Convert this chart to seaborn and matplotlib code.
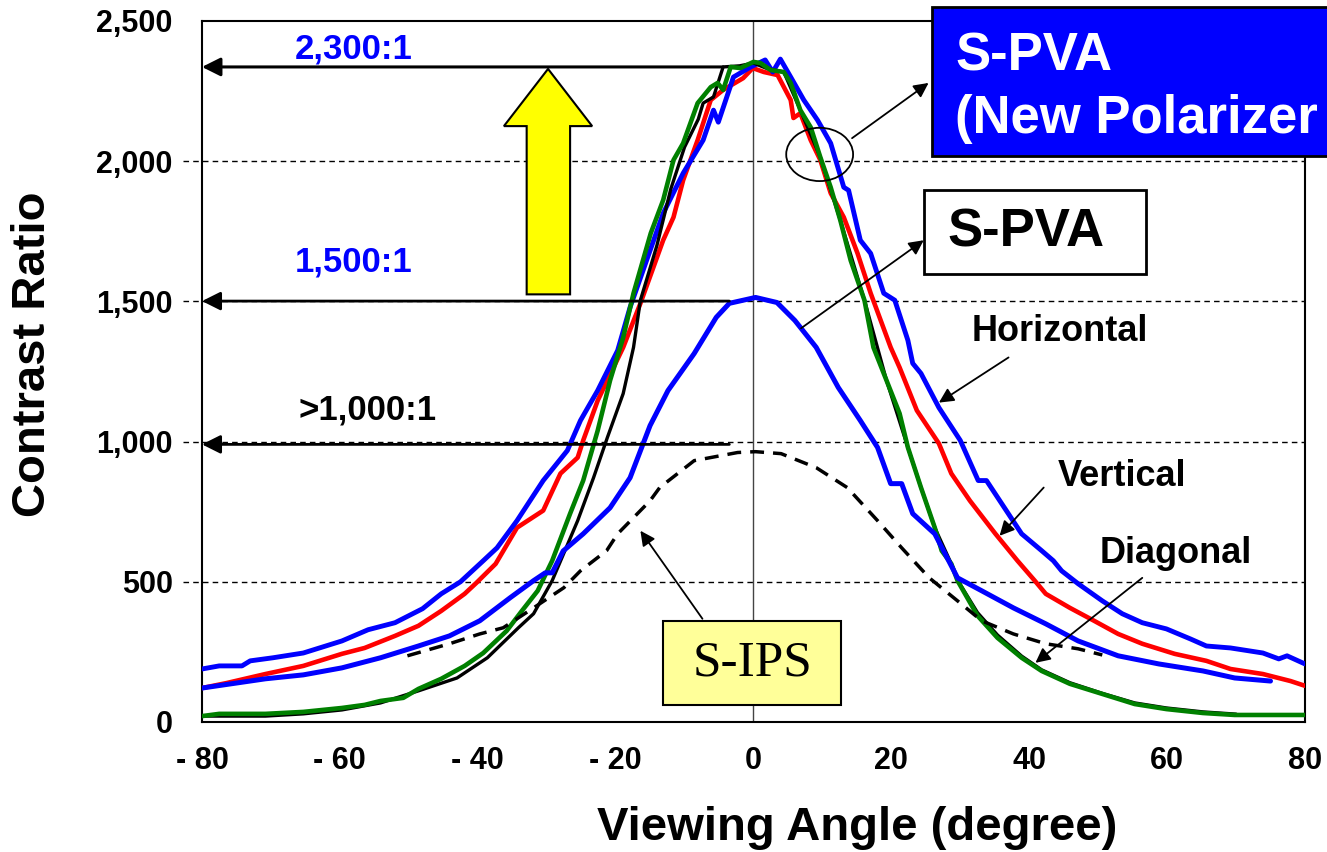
import matplotlib
matplotlib.use("Agg")
import matplotlib.pyplot as plt
import seaborn as sns
from matplotlib.patches import Rectangle, Ellipse, Polygon

# ---------------- data ----------------
horiz_x = [-80, -77.5, -74.2, -73, -69.7, -65.3, -59.7, -55.9, -52, -48, -45.3, -42.5, -39.2, -37.2,
           -34.3, -30.5, -27, -25.1, -24.1, -22.6, -19.7, -17.9, -13.1, -10.2, -7.3, -5.8, -5.1, -2.9,
           -0.4, 1.7, 2.8, 3.9, 5.4, 7.3, 9.3, 11.2, 13.1, 13.8, 15.5, 17, 18.9, 20.5, 22.4, 23.1, 24.3,
           26.9, 30, 32.6, 33.8, 38.9, 41.8, 43.5, 44.7, 47.1, 50.6, 53.5, 56.4, 59.9, 63.4, 65.7, 69.2,
           73.9, 76.2, 77.4, 80]
horiz_y = [189, 200, 200, 218, 229, 246, 289, 329, 354, 404, 457, 500, 575, 621,
           718, 861, 968, 1075, 1118, 1182, 1325, 1479, 1814, 1957, 2075, 2182, 2139, 2300,
           2336, 2361, 2318, 2364, 2300, 2218, 2146, 2064, 1907, 1896, 1718, 1671, 1529, 1504, 1361, 1279, 1243,
           1121, 1004, 861, 861, 671, 611, 575, 539, 493, 432, 386, 354, 332, 296, 271, 264,
           246, 225, 236, 207]

vert_x = [-80, -76.4, -70.8, -65.3, -59.7, -56.4, -52, -48.6, -45.3, -41.9, -40.2, -37.4, -34.3, -30.5,
          -28, -25.5, -24.7, -22.6, -18.9, -16.4, -13.1, -11.6, -10.2, -8.1, -6.2, -4.4, -1.5, -0.1, 1.5,
          3.5, 5.4, 5.8, 6.8, 8.3, 9.7, 11.2, 13.1, 15.1, 17, 19.9, 21.2, 23.7, 26.9, 28.7, 31.4, 35.1,
          38.3, 40.8, 42.4, 45.9, 49.4, 52.9, 56.4, 61.1, 65.7, 69.2, 73.9, 77.9, 80]
vert_y = [121, 139, 171, 200, 243, 264, 307, 343, 396, 457, 496, 564, 693, 754,
          886, 943, 1004, 1146, 1336, 1493, 1718, 1800, 1932, 2075, 2218, 2254, 2296, 2332, 2318,
          2307, 2218, 2154, 2171, 2075, 2004, 1886, 1800, 1671, 1529, 1336, 1264, 1111, 993, 886, 789, 671,
          575, 504, 457, 407, 361, 314, 279, 243, 218, 189, 171, 146, 129]

diag_x = [-80, -77.5, -70.8, -65.3, -59.7, -56.4, -54.1, -50.8, -48.6, -45.3, -41.9, -39.2, -35.8, -33.6,
          -31.3, -29.2, -26.6, -24.7, -22.6, -20.8, -18.9, -17.4, -14.9, -13.1, -11.6, -10.2, -8.1, -6.2,
          -5.2, -4.4, -3.3, -1.9, 0, 1, 2.5, 4.4, 5.4, 6.8, 8.3, 9.7, 11.2, 12.6, 14.1, 16.1, 17.4, 19.3,
          21.2, 22.4, 24.3, 26.3, 27.3, 28.7, 29.6, 32.5, 35.4, 38.9, 41.8, 45.9, 50.6, 55.3, 59.9, 65.2,
          69.8, 80]
diag_y = [21, 29, 29, 36, 50, 61, 75, 86, 118, 154, 200, 246, 325, 396,
          468, 575, 743, 861, 1039, 1218, 1371, 1529, 1743, 1861, 2004, 2064, 2207, 2264,
          2279, 2254, 2336, 2332, 2354, 2350, 2325, 2318, 2279, 2182, 2121, 2014, 1907, 1789, 1646, 1504, 1336, 1218,
          1100, 979, 836, 693, 611, 564, 504, 379, 300, 229, 182, 136, 100, 64, 46, 32,
          25, 25]

ref_x = [-80, -70.8, -65.3, -59.7, -54.1, -48.6, -43, -38.6, -34.1, -31.9, -29.2, -25.5, -23.2, -21.2,
         -18.9, -17.4, -16.4, -14, -12, -10, -8, -7.3, -5.8, -4.4, -2, 0, 2, 4.4, 6.8, 9.7, 12.6, 16.1,
         19.3, 22.4, 24.3, 26.3, 28.7, 30, 32.5, 35.4, 38.9, 41.8, 45.9, 50.6, 55.3, 59.9, 65.2, 70]
ref_y = [21, 21, 29, 43, 68, 111, 157, 229, 336, 386, 504, 718, 871, 1014,
         1171, 1336, 1504, 1700, 1900, 2050, 2150, 2207, 2229, 2336, 2340, 2350, 2330, 2318, 2182, 2014, 1789, 1504,
         1218, 979, 836, 693, 564, 490, 390, 310, 235, 186, 140, 102, 68, 50, 36, 28]

spva_x = [-80, -70.8, -65.3, -59.7, -54.1, -48.6, -44.1, -39.7, -35.3, -31.9, -30.2, -29.2, -27.6, -24.7,
          -20.8, -17.9, -15, -12.4, -8.6, -5.4, -3.5, 0.3, 3.4, 6, 9.1, 12.3, 15.5, 18, 19.9, 21.5, 23.1,
          26.3, 29.6, 33.1, 37.7, 42.4, 47.1, 52.9, 58.8, 65.2, 69.8, 75]
spva_y = [121, 154, 168, 193, 229, 271, 307, 361, 443, 504, 532, 532, 610, 671,
          764, 871, 1057, 1182, 1314, 1443, 1493, 1514, 1496, 1432, 1336, 1193, 1075, 979, 850, 850, 743,
          671, 514, 468, 407, 350, 289, 236, 207, 182, 157, 146]

ips_x = [-50.2, -44.1, -39.7, -36.3, -31.9, -27.5, -25.1, -21.3, -19.7, -15, -13.6, -8.6, -2.3, 0.3, 4,
         9.1, 13.6, 18, 21.5, 25.5, 29.6, 33.1, 37.7, 42.4, 47.1, 50.6]
ips_y = [236, 279, 314, 336, 407, 479, 539, 611, 671, 789, 836, 932, 961, 964, 957,
         907, 836, 718, 621, 514, 432, 361, 314, 279, 261, 239]

x_ticks = [-80, -60, -40, -20, 0, 20, 40, 60, 80]
x_tick_labels = ["- 80", "- 60", "- 40", "- 20", "0", "20", "40", "60", "80"]
y_ticks = [0, 500, 1000, 1500, 2000, 2500]
y_tick_labels = ["0", "500", "1,000", "1,500", "2,000", "2,500"]

# ---------------- style ----------------
sns.set_theme(style="white")
plt.rcParams['font.family'] = ['Liberation Sans', 'DejaVu Sans']
plt.rcParams['font.weight'] = 'bold'
plt.rcParams['text.color'] = 'black'
plt.rcParams['axes.labelcolor'] = 'black'
plt.rcParams['xtick.color'] = 'black'
plt.rcParams['ytick.color'] = 'black'

fig = plt.figure(figsize=(13.27, 8.52), dpi=100)
ax = fig.add_axes([0.1522, 0.1526, 0.8312, 0.8228])

BLUE = "#0000FF"
RED = "#FF0000"
GREEN = "#008000"

# gridlines (dashed, extending a bit left of the spine)
for yv in [500, 1000, 1500, 2000]:
    ax.axhline(yv, xmin=-0.017, xmax=1, color="black", lw=1.0, ls=(0, (4, 3)),
               clip_on=False, zorder=1)
ax.axvline(0, color="#444444", lw=1.0, zorder=1)

# curves
sns.lineplot(x=vert_x, y=vert_y, ax=ax, color=RED, lw=3.3, sort=False, estimator=None, zorder=3)
sns.lineplot(x=horiz_x, y=horiz_y, ax=ax, color=BLUE, lw=3.5, sort=False, estimator=None, zorder=4)
sns.lineplot(x=ref_x, y=ref_y, ax=ax, color="black", lw=2.4, sort=False, estimator=None, zorder=5)
sns.lineplot(x=diag_x, y=diag_y, ax=ax, color=GREEN, lw=3.3, sort=False, estimator=None, zorder=6)
sns.lineplot(x=spva_x, y=spva_y, ax=ax, color=BLUE, lw=3.6, sort=False, estimator=None, zorder=7)
sns.lineplot(x=ips_x, y=ips_y, ax=ax, color="black", lw=2.5, sort=False, estimator=None, zorder=7,
             linestyle=(0, (4, 2.6)))

ax.set_xlim(-80, 80)
ax.set_ylim(0, 2500)
ax.set_xticks(x_ticks)
ax.set_xticklabels(x_tick_labels, fontsize=22, fontweight="bold", color="black")
ax.set_yticks(y_ticks)
ax.set_yticklabels(y_tick_labels, fontsize=22, fontweight="bold", color="black")
ax.tick_params(axis="x", direction="in", length=9, width=1.2, pad=17, colors="black")
ax.tick_params(axis="y", length=0, pad=21, colors="black")
for s in ax.spines.values():
    s.set_visible(True)
    s.set_color("black")
    s.set_linewidth(1.5)

ax.set_xlabel("Viewing Angle (degree)", fontsize=34, fontweight="bold", color="black")
ax.xaxis.set_label_coords(0.594, -0.151)
ax.xaxis.label.set_verticalalignment("center")
ax.set_ylabel("Contrast Ratio", fontsize=34, fontweight="bold", color="black")
ax.yaxis.set_label_coords(-0.153, 0.524)
ax.yaxis.label.set_verticalalignment("center")

# ---------------- annotations ----------------
def arrow(tail, head, lw=1.3, ms=22, z=8):
    ax.annotate("", xy=head, xytext=tail,
                arrowprops=dict(arrowstyle="-|>", color="black", lw=lw,
                                mutation_scale=ms, shrinkA=0, shrinkB=0),
                zorder=z, annotation_clip=False)

# level arrows
arrow((-4.4, 2336), (-80, 2336), lw=2.2, ms=28)
arrow((-3.5, 1501), (-80, 1501), lw=2.0, ms=28)
arrow((-3.5, 990), (-80, 990), lw=2.0, ms=28)

ax.text(-58, 2400, "2,300:1", color=BLUE, fontsize=25, fontweight="bold", ha="center", va="center")
ax.text(-58, 1639, "1,500:1", color=BLUE, fontsize=25, fontweight="bold", ha="center", va="center")
ax.text(-56, 1111, ">1,000:1", color="black", fontsize=25, fontweight="bold", ha="center", va="center")

# yellow up arrow
ax.add_patch(Polygon([(-32.9, 1525), (-26.6, 1525), (-26.6, 2125), (-23.4, 2125), (-29.8, 2329),
                      (-36.2, 2125), (-32.9, 2125)], closed=True, facecolor="#FFFF00",
                     edgecolor="black", lw=1.5, zorder=8))

# ellipse + pointer to blue box
ax.add_patch(Ellipse((9.6, 2024), width=9.7, height=190, fill=False, edgecolor="black", lw=1.3, zorder=9))
arrow((14.3, 2082), (25.4, 2279))

# S-PVA box and pointer
arrow((6.9, 1404), (24.7, 1718))
ax.add_patch(Rectangle((24.7, 1596), 32.2, 300, facecolor="white", edgecolor="black", lw=2, zorder=9))
ax.text(28.1, 1746, "S-PVA", fontsize=38, fontweight="bold", color="black", ha="left", va="center", zorder=10)

# Horizontal / Vertical / Diagonal labels
ax.text(44.5, 1393, "Horizontal", fontsize=26, fontweight="bold", color="black",
        ha="center", va="center", zorder=10)
arrow((37, 1300), (26.9, 1139))
ax.text(53.4, 875, "Vertical", fontsize=26, fontweight="bold", color="black",
        ha="center", va="center", zorder=10)
arrow((42.1, 836), (35.7, 664))
ax.text(61.2, 600, "Diagonal", fontsize=26, fontweight="bold", color="black",
        ha="center", va="center", zorder=10)
arrow((56.4, 514), (40.9, 211))

# S-IPS box and pointer
arrow((-7.4, 368), (-16.4, 682))
ax.add_patch(Rectangle((-13.1, 61), 25.8, 300, facecolor="#FFFF99", edgecolor="black", lw=1.5, zorder=9))
ax.text(-0.2, 211, "S-IPS", fontsize=37, fontweight="normal", color="black",
        family=["Liberation Serif", "DejaVu Serif"], ha="center", va="center", zorder=10)

# blue title box (extends past the right edge)
fig.add_artist(Rectangle((0.7023, 0.8169), 0.32, 0.1749, transform=fig.transFigure,
                         facecolor=BLUE, edgecolor="black", lw=2, clip_on=False, zorder=5))
fig.text(0.7197, 0.9178, "S-PVA", color="white", fontsize=38, fontweight="bold",
         ha="left", va="baseline", zorder=6)
fig.text(0.7197, 0.8439, "(New Polarizer", color="white", fontsize=38, fontweight="bold",
         ha="left", va="baseline", zorder=6)

fig.savefig("out.png", dpi=100, facecolor="white")
